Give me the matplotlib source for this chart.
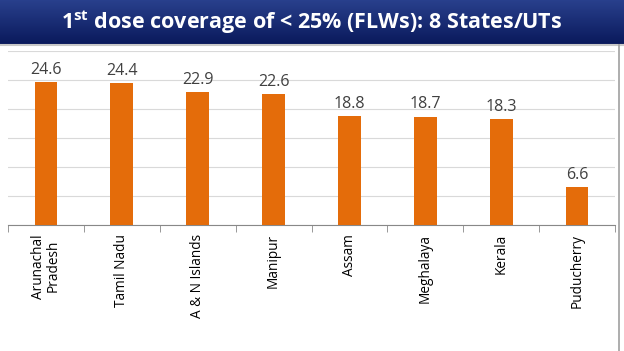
import numpy as np
import matplotlib.pyplot as plt

states = ['Arunachal\nPradesh', 'Tamil Nadu', 'A & N Islands', 'Manipur',
          'Assam', 'Meghalaya', 'Kerala', 'Puducherry']
coverage = [24.6, 24.4, 22.9, 22.6, 18.8, 18.7, 18.3, 6.6]
title = r'1$^{\mathbf{st}}$ dose coverage of < 25% (FLWs): 8 States/UTs'

plt.rcParams['font.family'] = ['Open Sans', 'DejaVu Sans']
plt.rcParams['mathtext.fontset'] = 'custom'
plt.rcParams['mathtext.rm'] = 'Open Sans'
plt.rcParams['mathtext.bf'] = 'Open Sans:bold'

def main():
    fig = plt.figure(figsize=(6.24, 3.51), dpi=100)
    fig.patch.set_facecolor('white')
    drawBanner(fig)
    drawBars(fig)
    # slide frame edge on the right
    fig.add_artist(plt.Line2D([619 / 624] * 2, [0, 1 - 45 / 351], color='#a0a0a0',
                              lw=1.2, transform=fig.transFigure))
    fig.savefig('out.png', dpi=100)

def drawBanner(fig):
    # navy title strip with a soft vertical gradient
    bax = fig.add_axes([0, 1 - 44 / 351, 1, 44 / 351])
    grad = np.linspace(0, 1, 64).reshape(-1, 1)
    top = np.array([0.16, 0.25, 0.55])
    bot = np.array([0.04, 0.10, 0.36])
    img = top + (bot - top) * grad[..., None]
    img = img.reshape(64, 1, 3)
    bax.imshow(img, aspect='auto', extent=[0, 1, 0, 1])
    bax.set_xlim(0, 1)
    bax.set_ylim(0, 1)
    bax.axis('off')
    fig.text(0.5, 1 - 22 / 351, title, color='white', fontsize=15.5,
             fontweight='bold', ha='center', va='center')
    # thin grey shadow under the banner
    fig.add_artist(plt.Line2D([0, 1], [1 - 45 / 351] * 2, color='#c8c8c8',
                              lw=1.5, transform=fig.transFigure))

def drawBars(fig):
    ax = fig.add_axes([8 / 624, 1 - 225 / 351, 607 / 624, 174 / 351])
    x = np.arange(len(states))
    bars = ax.bar(x, coverage, width=0.3, color='#E46C0A', zorder=3)
    for b, v in zip(bars, coverage):
        ax.annotate(f'{v}', (b.get_x() + b.get_width() / 2, v),
                    textcoords='offset points', xytext=(0, 3),
                    ha='center', va='bottom', fontsize=11.5, color='#404040')

    ax.set_xlim(-0.5, len(states) - 0.5)
    ax.set_ylim(0, 30)
    ax.set_yticks(np.arange(0, 31, 5))
    ax.yaxis.grid(True, color='#d9d9d9', lw=0.8, zorder=0)
    ax.tick_params(axis='y', length=0, labelleft=False)

    ax.set_xticks(x)
    ax.set_xticklabels(states, rotation=90, fontsize=9.8, color='#000000',
                       linespacing=1.0)
    ax.tick_params(axis='x', length=0, pad=6.5)
    ax.set_xticks(np.arange(-0.5, len(states)), minor=True)
    ax.tick_params(axis='x', which='minor', length=5, color='#888888')

    for s in ['top', 'right', 'left']:
        ax.spines[s].set_visible(False)
    ax.spines['bottom'].set_color('#888888')

if __name__ == '__main__':
    main()
